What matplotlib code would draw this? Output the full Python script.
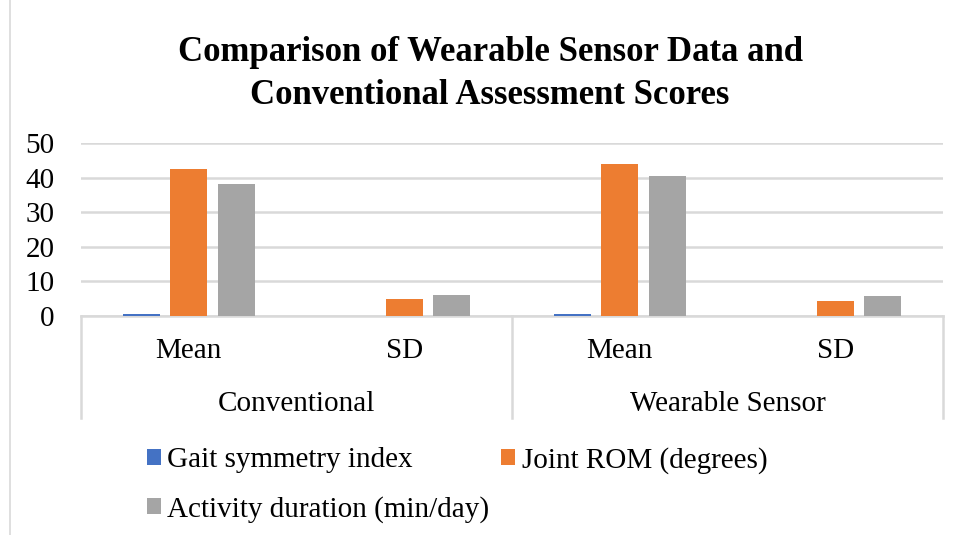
import matplotlib.pyplot as plt
import numpy as np
from matplotlib.lines import Line2D

plt.rcParams['font.family'] = ['Liberation Serif', 'DejaVu Serif']

# Data
groups = ['Conventional', 'Wearable Sensor']
stats = ['Mean', 'SD', 'Mean', 'SD']
series = ['Gait symmetry index', 'Joint ROM (degrees)', 'Activity duration (min/day)']
gait = [0.5, 0.05, 0.5, 0.05]
joint_rom = [42.4, 4.8, 44.0, 4.4]
activity = [38.2, 6.2, 40.6, 5.8]
colors = ['#4472C4', '#ED7D31', '#A5A5A5']

fig = plt.figure(figsize=(9.59, 5.35), dpi=100)
ax = fig.add_axes([0.0845, 0.4093, 0.8988, 0.3234])

x = np.arange(len(stats))
width = 0.172
step = 0.221
bars = []
for i, (vals, name) in enumerate(zip([gait, joint_rom, activity], series)):
    bars.append(ax.bar(x + (i - 1) * step, vals, width, color=colors[i], label=name, zorder=3))

ax.set_xlim(-0.5, 3.5)
ax.set_ylim(0, 50)
ax.set_yticks(range(0, 51, 10))
ax.yaxis.grid(True, color='#D9D9D9', linewidth=1.8, zorder=0)
ax.tick_params(axis='y', length=0, pad=19, labelsize=21, colors='black')
ax.set_xticks([])
for s in ['left', 'right', 'top']:
    ax.spines[s].set_visible(False)
ax.spines['bottom'].set_color('#D9D9D9')
ax.spines['bottom'].set_linewidth(1.8)

# multi-level category axis
tr = ax.get_xaxis_transform()
for i, lab in enumerate(stats):
    ax.text(x[i], -0.20, lab, transform=tr, ha='center', va='center', fontsize=21)
for g, lab in enumerate(groups):
    ax.text(2 * g + 0.5, -0.51, lab, transform=tr, ha='center', va='center', fontsize=21)
for xv in [-0.5, 1.5, 3.5]:
    ax.plot([xv, xv], [0, -0.59], transform=tr, color='#D9D9D9', lw=1.8, clip_on=False)

fig.text(0.511, 0.862, 'Comparison of Wearable Sensor Data and\nConventional Assessment Scores',
         ha='center', va='center', fontsize=25, fontweight='bold', linespacing=1.38)

# chart border on the left
fig.add_artist(Line2D([10 / 959, 10 / 959], [0, 1], color='#D9D9D9', lw=1.2))

# legend fills row by row in the reference: reorder for column-major layout
order = [0, 2, 1]
fig.legend([bars[k] for k in order], [series[k] for k in order],
           loc='upper left', bbox_to_anchor=(0.153, 0.165), ncol=2,
           frameon=False, fontsize=21, handlelength=0.48, handleheight=0.48,
           handletextpad=0.23, columnspacing=0.4, labelspacing=0.78,
           borderpad=0, borderaxespad=0)

fig.savefig('out.png', dpi=100)
